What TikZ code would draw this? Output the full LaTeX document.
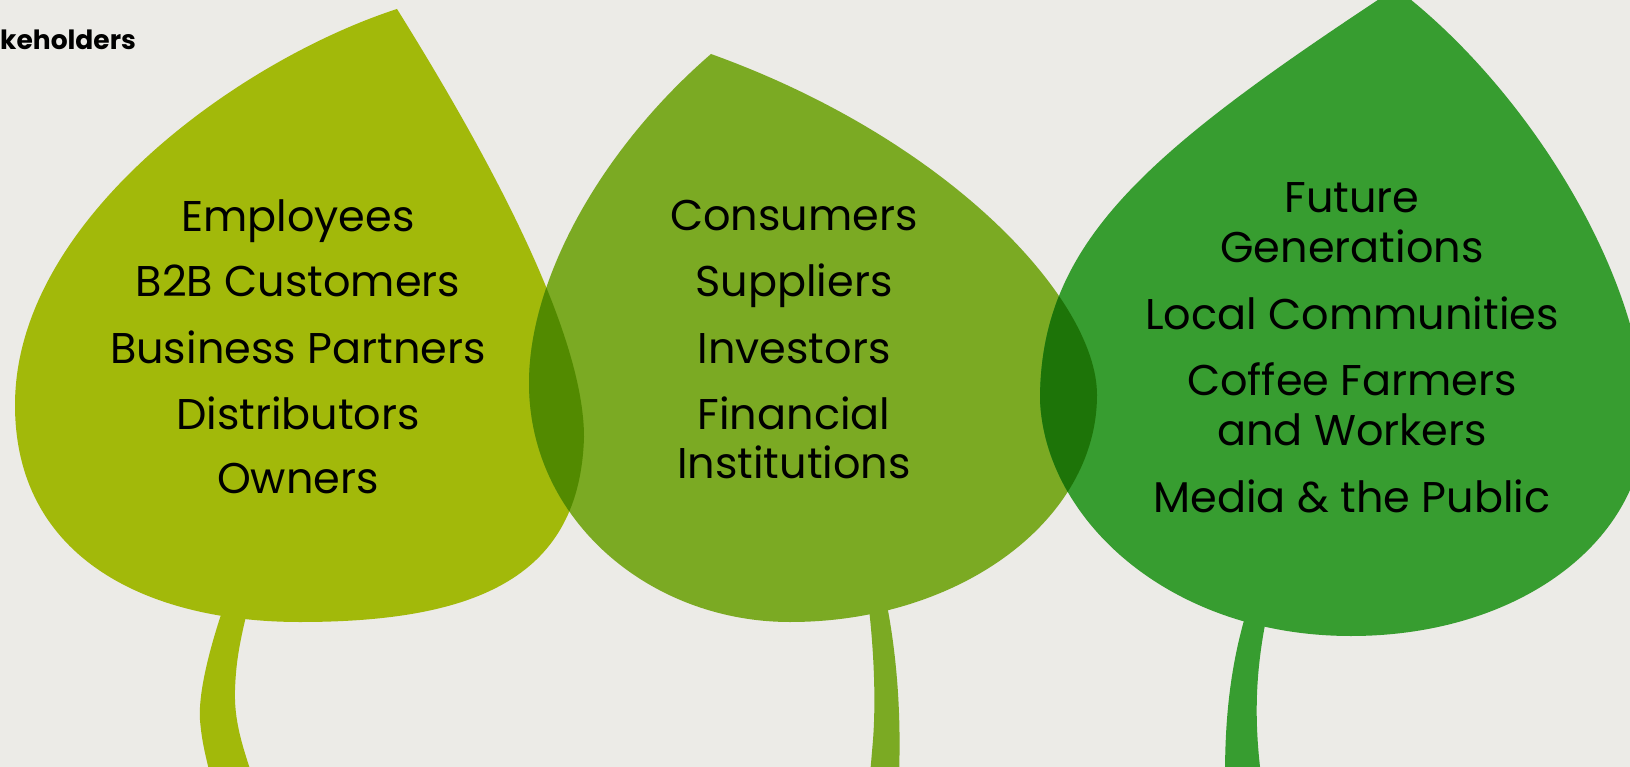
\documentclass[tikz,border=0pt]{standalone}
\usepackage{fontspec}
\setmainfont{Poppins}
\definecolor{bg}{HTML}{ECEBE7}
\definecolor{leafA}{HTML}{A2B90A}
\definecolor{leafB}{HTML}{7BAA23}
\definecolor{leafC}{HTML}{379D30}
\definecolor{lensAB}{HTML}{528A00}
\definecolor{lensBC}{HTML}{1D7408}
\tikzset{
  lbl/.style={anchor=base, inner sep=0pt, font=\fontsize{43}{43}\selectfont, text=black},
  ttl/.style={anchor=base west, inner sep=0pt, font=\fontsize{26.5}{26.5}\selectfont\bfseries, text=black}
}
\begin{document}
\begin{tikzpicture}[x=1pt,y=-1pt]
\useasboundingbox (0,0) rectangle (1630,767);
\fill[bg] (0,0) rectangle (1630,767);
\def\leafApath{(397,9) .. controls (240,60) and (15,220) .. (15,405) .. controls (15,560) and (150,622) .. (300,622) .. controls (480,622) and (580,575) .. (584,437) .. controls (584,330) and (485,150) .. (397,9) -- cycle}
\def\leafBpath{(711,54) .. controls (600,150) and (529,280) .. (529,383) .. controls (529,520) and (650,622) .. (790,622) .. controls (960,622) and (1097,520) .. (1097,395) .. controls (1097,300) and (950,140) .. (711,54) -- cycle}
\def\leafCpath{(1396,-12) .. controls (1150,150) and (1040,240) .. (1040,400) .. controls (1045,520) and (1170,636) .. (1351,636) .. controls (1520,636) and (1645,540) .. (1645,420) .. controls (1645,280) and (1530,90) .. (1396,-12) -- cycle}
% stems
\fill[leafA] (226,600) .. controls (212,640) and (198,690) .. (200,720) .. controls (202,745) and (207,760) .. (210,775) -- (252,775) .. controls (242,745) and (234,720) .. (235,690) .. controls (236,660) and (240,640) .. (250,600) -- cycle;
\fill[leafB] (868,600) .. controls (874,650) and (876,700) .. (873,740) -- (870,775) -- (899,775) .. controls (901,720) and (898,660) .. (886,600) -- cycle;
\fill[leafC] (1247,610) .. controls (1232,660) and (1225,710) .. (1225,775) -- (1261,775) .. controls (1254,720) and (1255,670) .. (1268,610) -- cycle;
% leaves
\fill[leafA] \leafApath;
\fill[leafB] \leafBpath;
\fill[leafC] \leafCpath;
\begin{scope}
  \clip \leafApath;
  \fill[lensAB] \leafBpath;
\end{scope}
\begin{scope}
  \clip \leafBpath;
  \fill[lensBC] \leafCpath;
\end{scope}
% title
\node[ttl] (title) at (0,50) {keholders};
% leaf A labels
\node[lbl] (a1) at (298,232) {Employees};
\node[lbl] (a2) at (298,297) {B2B Customers};
\node[lbl] (a3) at (298,363) {Business Partners};
\node[lbl] (a4) at (298,429) {Distributors};
\node[lbl] (a5) at (298,493) {Owners};
% leaf B labels
\node[lbl] (b1) at (794,231) {Consumers};
\node[lbl] (b2) at (794,297) {Suppliers};
\node[lbl] (b3) at (794,363) {Investors};
\node[lbl] (b4) at (794,429) {Financial};
\node[lbl] (b5) at (794,478) {Institutions};
% leaf C labels
\node[lbl] (c1) at (1352,213) {Future};
\node[lbl] (c2) at (1352,263) {Generations};
\node[lbl] (c3) at (1352,329) {Local Communities};
\node[lbl] (c4) at (1352,395) {Coffee Farmers};
\node[lbl] (c5) at (1352,445) {and Workers};
\node[lbl] (c6) at (1352,512) {Media \& the Public};
\end{tikzpicture}
\end{document}
